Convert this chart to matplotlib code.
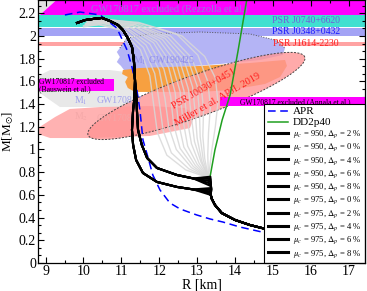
import numpy as np
import matplotlib
matplotlib.use("Agg")
import matplotlib.pyplot as plt
from matplotlib.ticker import MultipleLocator, AutoMinorLocator, FuncFormatter

plt.rcParams["font.family"] = ["Liberation Serif", "DejaVu Serif"]
plt.rcParams["mathtext.fontset"] = "stix"

# ---------------- data ----------------
# horizontal pulsar mass bands
band_names = ["PSR J0740+6620", "PSR J0348+0432", "PSR J1614-2230"]
band_lo = [2.08, 2.0, 1.91]
band_hi = [2.185, 2.07, 1.947]

# GW170817 exclusion (Rezzolla et al.) and grey corner above it
rez_R = [8.85, 9.33, 17.6, 17.6]
rez_M = [2.185, 2.33, 2.33, 2.185]
corner_R = [8.7, 8.85, 9.33, 8.7]
corner_M = [2.185, 2.185, 2.33, 2.33]

# GW170817 exclusion boxes (R_lo, R_hi, M_lo, M_hi)
bauswein_box = [8.7, 10.8, 1.518, 1.62]
annala_box = [13.6, 17.6, 1.38, 1.465]

# GW170817 M1 / M2 regions
m1_170817_R = [8.8, 8.85, 9.12, 10.70, 11.10, 11.36, 11.41, 11.23, 9.38, 8.85]
m1_170817_M = [1.62, 1.656, 1.70, 1.70, 1.683, 1.612, 1.436, 1.374, 1.374, 1.498]
m2_170817_R = [8.8, 9.25, 9.64, 10.44, 11.75, 12.68, 12.94, 12.81, 11.75, 10.17, 9.12, 8.8]
m2_170817_M = [1.189, 1.286, 1.357, 1.374, 1.383, 1.366, 1.304, 1.189, 1.119, 1.101, 1.101, 1.137]

# GW190425 M1 / M2 regions
m1_190425_R = [10.96, 11.15, 11.76, 13.07, 14.39, 15.05, 15.32, 15.26, 14.66, 13.60,
               12.55, 11.49, 11.07, 10.99, 10.88, 10.96, 10.88]
m1_190425_M = [1.894, 1.982, 2.018, 2.035, 2.018, 1.965, 1.894, 1.833, 1.789, 1.753,
               1.727, 1.700, 1.700, 1.736, 1.771, 1.815, 1.859]
m2_190425_R = [11.04, 11.49, 13.07, 14.39, 15.32, 15.37, 15.19, 14.79, 13.87, 13.07,
               12.02, 11.36, 11.17, 11.10, 11.17, 11.02]
m2_190425_M = [1.700, 1.718, 1.736, 1.762, 1.789, 1.736, 1.639, 1.577, 1.524, 1.507,
               1.507, 1.507, 1.542, 1.595, 1.639, 1.665]

# PSR J0030+0451 (Miller et al.) ellipse: major-axis tips and axis ratio
psr_tip_R = [10.12, 15.84]
psr_tip_M = [1.128, 1.815]
psr_ratio = 0.18

# APR
apr_R = [9.51, 9.91, 10.44, 10.88, 11.15, 11.28, 11.41, 11.49, 11.57, 11.70, 11.83,
         12.02, 12.28, 12.55, 12.99, 13.34, 13.68, 14.13, 14.71, 15.5, 17.5]
apr_M = [2.185, 2.211, 2.185, 2.07, 1.877, 1.727, 1.524, 1.348, 1.084, 0.934, 0.775,
         0.643, 0.529, 0.476, 0.423, 0.388, 0.361, 0.317, 0.273, 0.24, 0.19]

# DD2p40
dd2_R = [13.34, 13.47, 13.66, 13.87, 14.08, 14.31, 14.4]
dd2_M = [0.758, 0.997, 1.26, 1.48, 1.87, 2.32, 2.4]

# hybrid-star family (grey), transition point -> maximum mass
grey_R = [
    [13.3, 12.7, 12.2, 11.95, 11.85, 11.75, 11.5, 11.0, 10.4, 10.0],
    [13.3, 12.78, 12.32, 12.1, 12.0, 11.88, 11.58, 11.05, 10.45, 10.0],
    [13.3, 12.85, 12.45, 12.25, 12.15, 12.0, 11.65, 11.1, 10.5, 10.05],
    [13.3, 12.9, 12.55, 12.38, 12.3, 12.12, 11.75, 11.15, 10.5, 10.05],
    [13.3, 12.95, 12.65, 12.5, 12.42, 12.25, 11.85, 11.2, 10.5, 10.05],
    [13.3, 13.0, 12.75, 12.62, 12.55, 12.35, 11.92, 11.25, 10.48, 10.08],
    [13.3, 13.05, 12.85, 12.72, 12.65, 12.45, 12.0, 11.3, 10.45, 10.1],
    [13.3, 13.1, 12.93, 12.84, 12.77, 12.55, 12.08, 11.32, 10.42, 10.1],
    [13.3, 13.12, 13.0, 12.95, 12.88, 12.65, 12.15, 11.35, 10.4, 10.1],
    [13.3, 13.16, 13.08, 13.06, 13.0, 12.75, 12.22, 11.38, 10.38, 10.12],
    [13.3, 13.2, 13.15, 13.17, 13.1, 12.85, 12.3, 11.4, 10.35, 10.15],
    [13.3, 13.28, 13.3, 13.35, 13.28, 13.02, 12.45, 11.45, 10.3, 10.15],
    [13.3, 13.38, 13.48, 13.55, 13.48, 13.2, 12.6, 11.5, 10.3, 10.2],
]
grey_M = [
    [0.75, 0.82, 0.95, 1.15, 1.40, 1.65, 1.88, 2.05, 2.10, 2.08],
    [0.75, 0.83, 0.97, 1.17, 1.42, 1.67, 1.90, 2.06, 2.10, 2.09],
    [0.75, 0.84, 1.00, 1.20, 1.45, 1.70, 1.92, 2.07, 2.11, 2.10],
    [0.75, 0.85, 1.01, 1.22, 1.47, 1.71, 1.93, 2.07, 2.11, 2.10],
    [0.75, 0.86, 1.02, 1.25, 1.50, 1.72, 1.94, 2.08, 2.12, 2.11],
    [0.75, 0.87, 1.03, 1.27, 1.51, 1.74, 1.95, 2.08, 2.12, 2.11],
    [0.75, 0.88, 1.05, 1.30, 1.52, 1.76, 1.96, 2.09, 2.12, 2.12],
    [0.75, 0.89, 1.07, 1.31, 1.53, 1.77, 1.97, 2.09, 2.13, 2.12],
    [0.75, 0.90, 1.10, 1.32, 1.55, 1.79, 1.98, 2.10, 2.13, 2.13],
    [0.75, 0.91, 1.11, 1.33, 1.56, 1.80, 1.99, 2.10, 2.14, 2.13],
    [0.75, 0.92, 1.12, 1.35, 1.58, 1.81, 2.00, 2.11, 2.14, 2.14],
    [0.75, 0.95, 1.15, 1.38, 1.60, 1.83, 2.02, 2.12, 2.15, 2.15],
    [0.75, 0.98, 1.20, 1.42, 1.63, 1.82, 2.00, 2.11, 2.16, 2.16],
]

# black curves: shared low-mass tail and shared top
tail_R = [17.5, 16.0, 15.0, 14.71, 14.39, 14.0, 13.65, 13.47, 13.38, 13.36]
tail_M = [0.22, 0.25, 0.285, 0.308, 0.335, 0.379, 0.44, 0.511, 0.57, 0.60]
top_R = [11.36, 11.33, 11.28, 11.17, 11.04, 10.91, 10.70, 10.49, 10.25, 10.04, 9.83]
top_M = [1.612, 1.789, 1.903, 1.982, 2.053, 2.097, 2.132, 2.159, 2.15, 2.14, 2.115]
# mu_c = 950 hybrid branch (after the fan) and fan transition masses
b950_R = [12.9, 12.47, 11.94, 11.57, 11.39, 11.31, 11.28, 11.31, 11.34]
b950_M = [0.648, 0.670, 0.714, 0.793, 0.907, 1.04, 1.172, 1.348, 1.436]
fan950_M = [0.615, 0.60, 0.63, 0.645, 0.66]
# mu_c = 975
b975_R = [12.9, 12.47, 11.94, 11.68, 11.54, 11.44, 11.41, 11.40]
b975_M = [0.745, 0.775, 0.837, 0.925, 1.04, 1.172, 1.348, 1.436]
fan975_M = [0.68, 0.70, 0.72, 0.74, 0.76]
dp_950 = [2, 0, 4, 6, 8]
dp_975 = [0, 2, 4, 6, 8]

# ---------------- figure ----------------
fig = plt.figure(figsize=(3.67, 2.91), dpi=100)
ax = fig.add_axes([38 / 367, 28 / 291, 327 / 367, 263 / 291])
ax.set_xlim(8.8, 17.43)
ax.set_ylim(0, 2.317)

# bands
ax.fill(corner_R, corner_M, color="#e0e0e0", lw=0, zorder=1)
ax.fill(rez_R, rez_M, color="#ff00ff", lw=0, zorder=1)
for lo, hi, c in zip(band_lo, band_hi, ["#40e0d0", "#a3a3f5", "#ffa3a3"]):
    ax.axhspan(lo, hi, color=c, lw=0, zorder=1)

ax.fill(m1_170817_R, m1_170817_M, color="#e8e8e8", lw=0, zorder=1.2)
ax.fill(m2_170817_R, m2_170817_M, color="#ffb2b2", lw=0, zorder=1.2)
ax.fill(m1_190425_R, m1_190425_M, color="#b4b4f5", lw=0, zorder=1.3)
ax.plot(m1_190425_R[:7], m1_190425_M[:7], ls=":", color="#555555", lw=0.7, zorder=1.3)
ax.fill(m2_190425_R, m2_190425_M, color="#f7a040", lw=0, zorder=1.4)

# ellipse built in display space so it looks like the drawn one
p = ax.transData.transform(np.column_stack([psr_tip_R, psr_tip_M]))
c = p.mean(axis=0)
d = p[1] - p[0]
a = np.hypot(*d) / 2
u = d / (2 * a)
v = np.array([-u[1], u[0]])
t = np.linspace(0, 2 * np.pi, 200)
pts = c + np.outer(a * np.cos(t), u) + np.outer(psr_ratio * a * np.sin(t), v)
ell = ax.transData.inverted().transform(pts)
ax.fill(ell[:, 0], ell[:, 1], color="#ff9595", alpha=0.8, lw=0, zorder=1.5)
ax.plot(ell[:, 0], ell[:, 1], ls=(0, (2, 1.5)), color="#444444", lw=0.7, zorder=1.5)

x0, x1, y0, y1 = bauswein_box
ax.fill([x0, x1, x1, x0], [y0, y0, y1, y1], color="#ff00ff", lw=0, zorder=1.6)
x0, x1, y0, y1 = annala_box
ax.fill([x0, x1, x1, x0], [y0, y0, y1, y1], color="#ff00ff", lw=0, zorder=1.6)

# grey hybrid family
for gr, gm in zip(grey_R, grey_M):
    ax.plot(gr, gm, color="#d8d8d8", lw=1.0, alpha=0.85, zorder=2)

# region labels
ax.text(12.28, 2.232, "GW170817 excluded (Rezzolla et al.)", color="#8f7fe0",
        fontsize=7.5, ha="center", va="center", zorder=3)
for name, lo, hi, col in zip(band_names, band_lo, band_hi, ["#7060d8", "#1a1aff", "#ff2020"]):
    ax.text(15.87, (lo + hi) / 2 + 0.005, name, color=col, fontsize=7,
            ha="center", va="center", zorder=3)
ax.text(14.12, 1.42, "GW170817 excluded (Annala et al.)", fontsize=5.5,
        ha="left", va="center", zorder=3)
ax.text(8.83, 1.592, "GW170817 excluded", fontsize=5.5, ha="left", va="center", zorder=3)
ax.text(8.83, 1.535, "(Bauswein et al.)", fontsize=5.5, ha="left", va="center", zorder=3)
ax.text(9.75, 1.43, r"M$_1$", color="#a0a0ee", fontsize=7, ha="left", va="center", zorder=3)
ax.text(10.35, 1.43, "GW170817", color="#a0a0ee", fontsize=7, ha="left", va="center", zorder=3)
ax.text(9.75, 1.29, r"M$_2$", color="#f4a8a8", fontsize=7, ha="left", va="center", zorder=3)
ax.text(10.35, 1.27, "GW170817", color="#f4a8a8", fontsize=7, ha="left", va="center", zorder=3)
ax.text(11.3, 1.78, r"M$_1$ GW190425", color="#9090e8", fontsize=7, ha="left", va="center", zorder=3)
ax.text(13.18, 1.537, "PSR J0030+0451", color="#ff2020", fontsize=7.5, rotation=30,
        ha="center", va="center", rotation_mode="anchor", zorder=3)
ax.text(13.55, 1.44, "Miller et al. APJL 2019", color="#ff2020", fontsize=7.5, rotation=30,
        ha="center", va="center", rotation_mode="anchor", zorder=3)

# curves with legend entries
ax.plot(apr_R, apr_M, color="#0000ff", ls=(0, (5, 3)), lw=1.1, zorder=4, label="APR")
ax.plot(dd2_R, dd2_M, color="#1f9f1f", lw=1.1, zorder=4, label="DD2p40")
for dp, mk in zip(dp_950, fan950_M):
    r = tail_R + [13.36] + b950_R + top_R
    m = tail_M + [mk] + b950_M + top_M
    ax.plot(r, m, color="k", lw=1.5, zorder=4,
            label=r"$\mu_c$ = 950, $\Delta_p$ = %d %%" % dp)
for dp, mk in zip(dp_975, fan975_M):
    r = tail_R + [13.37, 13.36, 13.35] + b975_R + top_R
    m = tail_M + [0.65, 0.70, mk] + b975_M + top_M
    ax.plot(r, m, color="k", lw=1.5, zorder=4,
            label=r"$\mu_c$ = 975, $\Delta_p$ = %d %%" % dp)

leg = ax.legend(loc="lower right", borderaxespad=0, fontsize=6.2, frameon=True,
                fancybox=False, edgecolor="black", framealpha=1, handlelength=2.3,
                handletextpad=0.6, labelspacing=0.17, borderpad=0.4)
leg.get_frame().set_linewidth(0.8)
leg.set_zorder(10)
for i, txt in enumerate(leg.get_texts()):
    txt.set_fontsize(8 if i < 2 else 6.2)
for ln in leg.get_lines()[2:]:
    ln.set_linewidth(2.2)

# axes
ax.xaxis.set_major_locator(MultipleLocator(1))
ax.xaxis.set_minor_locator(AutoMinorLocator(2))
ax.yaxis.set_major_locator(MultipleLocator(0.2))
ax.yaxis.set_minor_locator(AutoMinorLocator(3))
ax.yaxis.set_major_formatter(FuncFormatter(lambda val, pos: f"{val:g}"))
ax.tick_params(which="both", direction="in", top=True, right=True, labelsize=10, width=0.8)
ax.tick_params(axis="x", pad=1.5)
ax.tick_params(axis="y", pad=1.5)
ax.tick_params(which="major", length=4)
ax.tick_params(which="minor", length=2)
for sp in ax.spines.values():
    sp.set_linewidth(0.9)
    sp.set_zorder(11)
ax.set_xlabel("R [km]", fontsize=10)
ax.set_ylabel(r"M[M$_{\odot}$]", fontsize=9.5)
ax.xaxis.set_label_coords(0.5, -0.06)
ax.yaxis.set_label_coords(-0.068, 0.5)

fig.savefig("out.png", dpi=100)
